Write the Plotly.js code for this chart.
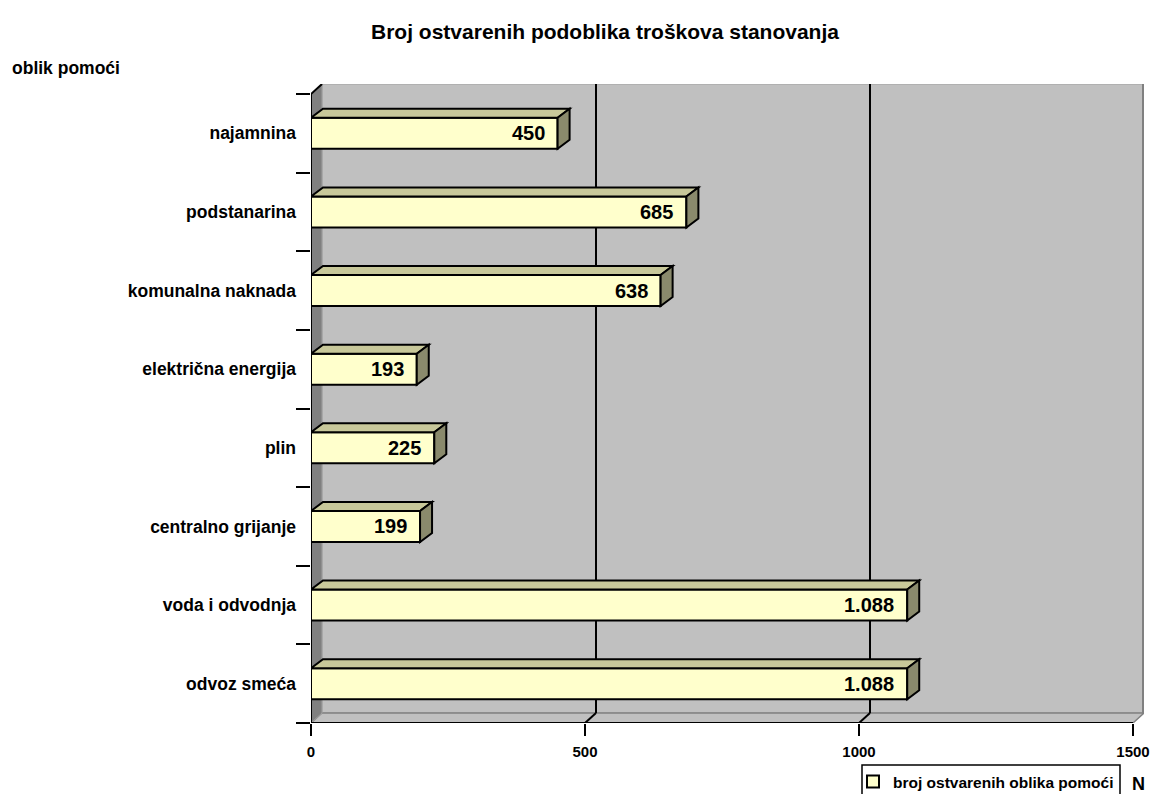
<!DOCTYPE html>
<html>
<head>
<meta charset="utf-8">
<script src="https://cdn.plot.ly/plotly-3.0.1.min.js"></script>
<style>html,body{margin:0;padding:0;background:#fff;}#chart{width:1159px;height:794px;}</style>
</head>
<body>
<div id="chart"></div>
<script>
// ---- data ----
var categories = ["najamnina", "podstanarina", "komunalna naknada", "električna energija", "plin", "centralno grijanje", "voda i odvodnja", "odvoz smeća"];
var values = [450, 685, 638, 193, 225, 199, 1088, 1088];
var xTicks = [0, 500, 1000, 1500];
var gridValues = [500, 1000];
var seriesName = "broj ostvarenih oblika pomoći";
var chartTitle = "Broj ostvarenih podoblika troškova stanovanja";
var yTitle = "oblik pomoći";
var xTitle = "N";

// ---- layout geometry ----
var W = 1159, H = 794;
var mL = 311, mR = 15, mT = 84, mB = 71;
var plotW = W - mL - mR, plotH = H - mT - mB;
var xMax = 1500;
var wallDxPx = 11, wallDyPx = 10;   // depth of walls (px)
var barDxPx = 12, barDyPx = 9;      // depth of bars (px)
var barHalf = 0.197;
var n = categories.length;
var frontH = plotH - wallDyPx;
var dyUnitsPerPx = n / frontH;
var yTop = -0.5 - wallDyPx * dyUnitsPerPx;
var yBot = n - 0.5;
var xRangeMax = xMax * plotW / (plotW - wallDxPx);
var dxUnitsPerPx = xRangeMax / plotW;
var wdx = wallDxPx * dxUnitsPerPx, wdy = wallDyPx * dyUnitsPerPx;
var bdx = barDxPx * dxUnitsPerPx, bdy = barDyPx * dyUnitsPerPx;

var idx = categories.map(function (c, i) { return i; });
var shapes = [];
function P(pts) { return 'M' + pts.map(function (p) { return p[0] + ',' + p[1]; }).join('L') + 'Z'; }

// back wall
shapes.push({type: 'rect', xref: 'x', yref: 'y', layer: 'below', x0: wdx, x1: xMax + wdx, y0: yTop, y1: yBot - wdy,
  fillcolor: '#C0C0C0', line: {color: '#A0A0A0', width: 1}});
// right edge of back wall
shapes.push({type: 'line', xref: 'x', yref: 'y', layer: 'below', x0: xMax + wdx, x1: xMax + wdx, y0: yTop, y1: yBot - wdy,
  line: {color: '#808080', width: 4}});
// floor
shapes.push({type: 'path', xref: 'x', yref: 'y', layer: 'below',
  path: P([[0, yBot], [wdx, yBot - wdy], [xMax + wdx, yBot - wdy], [xMax, yBot]]),
  fillcolor: '#C0C0C0', line: {color: '#808080', width: 1.5}});
// left wall
shapes.push({type: 'path', xref: 'x', yref: 'y', layer: 'below',
  path: P([[0, -0.5], [wdx, yTop], [wdx, yBot - wdy], [0, yBot]]),
  fillcolor: '#808080', line: {color: '#A0A0A0', width: 1}});
shapes.push({type: 'path', xref: 'x', yref: 'y', layer: 'below',
  path: 'M0,' + yBot + 'L0,-0.5L' + wdx + ',' + yTop, line: {color: '#000', width: 2}});
// grid lines on back wall + floor diagonals
gridValues.forEach(function (g) {
  shapes.push({type: 'line', xref: 'x', yref: 'y', layer: 'below', x0: g + wdx, x1: g + wdx, y0: yTop, y1: yBot - wdy,
    line: {color: '#000', width: 2}});
  shapes.push({type: 'line', xref: 'x', yref: 'y', layer: 'below', x0: g + wdx, x1: g, y0: yBot - wdy, y1: yBot,
    line: {color: '#000', width: 2}});
});
// front x axis line
shapes.push({type: 'line', xref: 'x', yref: 'y', layer: 'above', x0: 0, x1: xMax, y0: yBot, y1: yBot,
  line: {color: '#000', width: 2}});
// bar 3D faces
values.forEach(function (v, i) {
  var t = i - barHalf, b = i + barHalf;
  shapes.push({type: 'path', xref: 'x', yref: 'y', layer: 'above',
    path: P([[0, t], [bdx, t - bdy], [v + bdx, t - bdy], [v, t]]),
    fillcolor: '#C8C89A', line: {color: '#000', width: 2}});
  shapes.push({type: 'path', xref: 'x', yref: 'y', layer: 'above',
    path: P([[v, t], [v + bdx, t - bdy], [v + bdx, b - bdy], [v, b]]),
    fillcolor: '#8A8A6C', line: {color: '#000', width: 2}});
});
// legend frame
shapes.push({type: 'rect', xref: 'paper', yref: 'paper', layer: 'above',
  x0: (862 - mL) / plotW, x1: (1120 - mL) / plotW, y0: -(765 - (H - mB)) / plotH, y1: -(800 - (H - mB)) / plotH,
  line: {color: '#000', width: 1.5}, fillcolor: 'rgba(0,0,0,0)'});

var fontFam = 'Liberation Sans, Arial, sans-serif';
function fmt(v) { return String(v).replace(/\B(?=(\d{3})+(?!\d))/g, '.'); }
var annotations = values.map(function (v, i) {
  return {x: v, y: i, xref: 'x', yref: 'y', text: fmt(v), showarrow: false, xanchor: 'right', yanchor: 'middle',
    xshift: -11, font: {family: fontFam, size: 20, color: '#000', weight: 'bold'}};
});
annotations.push({x: (10 - mL) / plotW, y: 1 + (mT - 68) / plotH, xref: 'paper', yref: 'paper', text: yTitle,
  showarrow: false, xanchor: 'left', yanchor: 'middle',
  font: {family: fontFam, size: 17.5, color: '#000', weight: 'bold'}});
annotations.push({x: (1138 - mL) / plotW, y: -(784 - (H - mB)) / plotH, xref: 'paper', yref: 'paper', text: xTitle,
  showarrow: false, xanchor: 'center', yanchor: 'middle',
  font: {family: fontFam, size: 18, color: '#000', weight: 'bold'}});

var trace = {
  type: 'bar', orientation: 'h', x: values, y: idx, width: 2 * barHalf, name: seriesName,
  marker: {color: '#FFFFCC', line: {color: '#000', width: 2}}, hoverinfo: 'none', showlegend: true
};
var dummy = {type: 'scatter', x: [null], y: [null], yaxis: 'y2', showlegend: false, hoverinfo: 'none'};

var fontB = {family: fontFam, color: '#000', weight: 'bold'};
var layout = {
  width: W, height: H,
  margin: {l: mL, r: mR, t: mT, b: mB, pad: 0, autoexpand: false},
  paper_bgcolor: '#fff', plot_bgcolor: 'rgba(0,0,0,0)',
  font: {family: fontFam, color: '#000'},
  title: {text: '<b>' + chartTitle + '</b>', x: 0.522, xref: 'container', xanchor: 'center', y: 1 - 32 / H, yanchor: 'middle',
    font: {family: fontFam, size: 21, color: '#000'}},
  xaxis: {range: [0, xRangeMax], tickvals: xTicks, ticktext: xTicks.map(String), ticks: 'outside', ticklen: 12, tickwidth: 2,
    tickcolor: '#000', showgrid: false, zeroline: false, showline: false, fixedrange: true, ticklabelstandoff: 3,
    tickfont: Object.assign({size: 15}, fontB), title: {text: ''}},
  yaxis: {range: [yBot, yTop], tickvals: idx, ticktext: categories, ticks: '', showgrid: false, zeroline: false, showline: false,
    ticklabelstandoff: 14, tickfont: Object.assign({size: 17.5}, fontB), fixedrange: true},
  yaxis2: {overlaying: 'y', side: 'left', range: [yBot, yTop], tickvals: categories.map(function (c, i) { return i - 0.5; }).concat([n - 0.5]),
    showticklabels: false, ticks: 'outside', ticklen: 14, tickwidth: 2, tickcolor: '#000', showgrid: false, zeroline: false,
    showline: false, fixedrange: true},
  showlegend: true,
  legend: {orientation: 'h', x: (853 - mL) / plotW, y: -(765 - (H - mB)) / plotH, xanchor: 'left', yanchor: 'top',
    borderwidth: 0, bgcolor: 'rgba(0,0,0,0)', itemwidth: 30,
    font: Object.assign({size: 15.5}, fontB)},
  shapes: shapes,
  annotations: annotations,
  bargap: 0
};
Plotly.newPlot('chart', [trace, dummy], layout, {staticPlot: true, displayModeBar: false});
</script>
</body>
</html>
